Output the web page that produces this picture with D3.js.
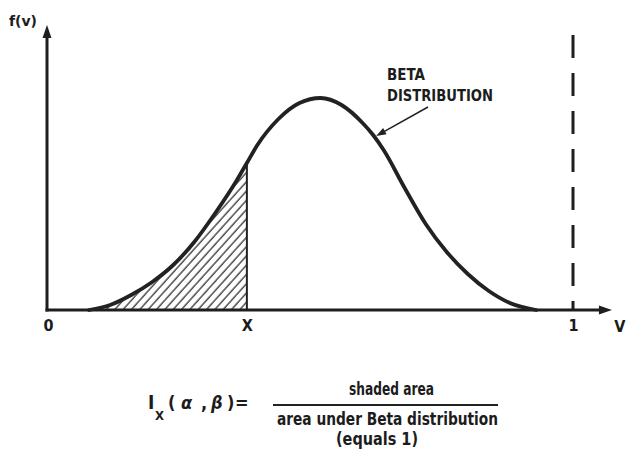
<!DOCTYPE html>
<html>
<head>
<meta charset="utf-8">
<script src="https://cdn.jsdelivr.net/npm/d3@7"></script>
<style>
  html, body { margin: 0; padding: 0; background: #fff; }
  svg { display: block; }
  .lbl { font-family: "Liberation Sans Narrow", "DejaVu Sans Condensed", "Roboto", sans-serif; font-weight: bold; fill: #1c1c1c; }
</style>
</head>
<body>
<script>
// Beta density curve, read as (v, f(v)) pairs
const vValues = [0.080, 0.120, 0.160, 0.200, 0.240, 0.280, 0.320, 0.360, 0.380, 0.400,
                 0.440, 0.480, 0.520, 0.560, 0.600, 0.620, 0.640, 0.680, 0.720, 0.760,
                 0.800, 0.840, 0.880, 0.930];
const fValues = [0.00, 0.05, 0.15, 0.28, 0.45, 0.68, 0.97, 1.29, 1.47, 1.65,
                 1.91, 2.07, 2.12, 2.05, 1.87, 1.75, 1.60, 1.22, 0.86, 0.58,
                 0.36, 0.19, 0.07, 0.00];
// cut point X and the axis labels
const xCut = 0.380;
const tickValues = [0, xCut, 1];
const tickLabels = ["0", "X", "1"];
const axisName = "V";
const yAxisName = "f(v)";
const curveLabel = ["BETA", "DISTRIBUTION"];
const calloutV = 0.620;   // where the label's arrow touches the curve

const W = 626, H = 457;
const data = vValues.map((v, i) => ({ v, f: fValues[i] }));

const x = d3.scaleLinear().domain([0, 1]).range([47, 573]);
const y = d3.scaleLinear().domain([0, 2.85]).range([310, 25]);
const vMax = 1.074;        // end of the horizontal axis arrow

const svg = d3.select("body").append("svg").attr("width", W).attr("height", H);
const defs = svg.append("defs");

// diagonal hatching
const pat = defs.append("pattern")
  .attr("id", "hatch").attr("patternUnits", "userSpaceOnUse")
  .attr("width", 6.2).attr("height", 10)
  .attr("patternTransform", "rotate(42)");
pat.append("line").attr("x1", 1).attr("y1", 0).attr("x2", 1).attr("y2", 10)
  .attr("stroke", "#2a2a2a").attr("stroke-width", 1.25);

defs.append("clipPath").attr("id", "cut")
  .append("rect").attr("x", x(0)).attr("y", 0)
  .attr("width", x(xCut) - x(0)).attr("height", y(0));

const area = d3.area().x(d => x(d.v)).y0(y(0)).y1(d => y(d.f)).curve(d3.curveMonotoneX);
const line = d3.line().x(d => x(d.v)).y(d => y(d.f)).curve(d3.curveMonotoneX);

// shaded area up to X
svg.append("path").datum(data).attr("d", area)
  .attr("fill", "url(#hatch)").attr("clip-path", "url(#cut)");

// vertical line at X
const fAtCut = fValues[vValues.indexOf(xCut)];
svg.append("line")
  .attr("x1", x(xCut)).attr("x2", x(xCut))
  .attr("y1", y(0)).attr("y2", y(fAtCut))
  .attr("stroke", "#222").attr("stroke-width", 2);

// dashed line at v = 1
svg.append("line")
  .attr("x1", x(1)).attr("x2", x(1))
  .attr("y1", y(2.75)).attr("y2", y(0))
  .attr("stroke", "#1e1e1e").attr("stroke-width", 3)
  .attr("stroke-dasharray", "23,15");

// axes
const ink = "#1e1e1e";
svg.append("line").attr("x1", x(0)).attr("x2", x(0)).attr("y1", y(0) + 1.5).attr("y2", y(2.85) + 8)
  .attr("stroke", ink).attr("stroke-width", 3);
svg.append("path")
  .attr("d", `M${x(0)},${y(2.85)} L${x(0) - 4.5},${y(2.85) + 13} L${x(0) + 4.5},${y(2.85) + 13} Z`)
  .attr("fill", ink);
svg.append("line").attr("x1", x(0) - 1.5).attr("x2", x(vMax) - 8).attr("y1", y(0)).attr("y2", y(0))
  .attr("stroke", ink).attr("stroke-width", 3);
svg.append("path")
  .attr("d", `M${x(vMax)},${y(0)} L${x(vMax) - 13},${y(0) - 4.5} L${x(vMax) - 13},${y(0) + 4.5} Z`)
  .attr("fill", ink);

// tick labels through a bottom axis with no ticks or domain
const axisG = svg.append("g").attr("transform", `translate(0,${y(0)})`)
  .call(d3.axisBottom(x).tickValues(tickValues).tickSize(0).tickPadding(10)
    .tickFormat((d, i) => tickLabels[i]));
axisG.select(".domain").remove();
axisG.selectAll("text").attr("class", "lbl").attr("font-size", 16).attr("dy", "0.71em")
  .attr("dx", (d, i) => i === 0 ? 1 : 0);

svg.append("text").attr("class", "lbl").attr("x", x(vMax) + 8).attr("y", 332)
  .attr("text-anchor", "middle").attr("font-size", 16).text(axisName);
svg.append("text").attr("class", "lbl").attr("x", 9).attr("y", 26)
  .attr("font-size", 14).attr("textLength", 28).attr("lengthAdjust", "spacingAndGlyphs")
  .text(yAxisName);

// the density curve
svg.append("path").datum(data).attr("d", line)
  .attr("fill", "none").attr("stroke", "#222").attr("stroke-width", 3.8)
  .attr("stroke-linecap", "round");

// curve label and its arrow
svg.append("text").attr("class", "lbl").attr("x", 387).attr("y", 80).attr("font-size", 16.5)
  .attr("textLength", 38).attr("lengthAdjust", "spacingAndGlyphs").text(curveLabel[0]);
svg.append("text").attr("class", "lbl").attr("x", 387).attr("y", 101).attr("font-size", 16.5)
  .attr("textLength", 106).attr("lengthAdjust", "spacingAndGlyphs").text(curveLabel[1]);

const tip = { x: x(calloutV) + 3, y: y(fValues[vValues.indexOf(calloutV)]) + 1 };
const tail = { x: 428, y: 107 };
const ang = Math.atan2(tail.y - tip.y, tail.x - tip.x);
svg.append("line").attr("x1", tail.x).attr("y1", tail.y)
  .attr("x2", tip.x + 8 * Math.cos(ang)).attr("y2", tip.y + 8 * Math.sin(ang))
  .attr("stroke", "#222").attr("stroke-width", 1.5);
const hl = 10, hw = 3.5;
const bx = tip.x + hl * Math.cos(ang), by = tip.y + hl * Math.sin(ang);
svg.append("path")
  .attr("d", `M${tip.x},${tip.y} L${bx - hw * Math.sin(ang)},${by + hw * Math.cos(ang)} L${bx + hw * Math.sin(ang)},${by - hw * Math.cos(ang)} Z`)
  .attr("fill", "#222");

// incomplete beta function definition
const f = svg.append("g");
f.append("text").attr("class", "lbl").attr("x", 148).attr("y", 409).attr("font-size", 19).text("I");
f.append("text").attr("class", "lbl").attr("x", 155).attr("y", 420).attr("font-size", 13).text("X");
const parts = [["(", 168, "normal"], ["α", 181, "italic"], [",", 201, "normal"],
               ["β", 211, "italic"], [")", 227, "normal"], ["=", 235, "normal"]];
parts.forEach(([t, px, st]) => {
  f.append("text").attr("class", "lbl").attr("x", px).attr("y", 409)
    .attr("font-size", 18).attr("font-style", st).text(t);
});
f.append("text").attr("class", "lbl").attr("x", 349).attr("y", 395).attr("font-size", 17.5)
  .attr("textLength", 85).attr("lengthAdjust", "spacingAndGlyphs").text("shaded area");
f.append("line").attr("x1", 273).attr("x2", 498).attr("y1", 405).attr("y2", 405)
  .attr("stroke", "#222").attr("stroke-width", 2);
f.append("text").attr("class", "lbl").attr("x", 277).attr("y", 425).attr("font-size", 17.5)
  .attr("textLength", 221).attr("lengthAdjust", "spacingAndGlyphs").text("area under Beta distribution");
f.append("text").attr("class", "lbl").attr("x", 336).attr("y", 445).attr("font-size", 17)
  .attr("textLength", 82).attr("lengthAdjust", "spacingAndGlyphs").text("(equals 1)");
</script>
</body>
</html>
